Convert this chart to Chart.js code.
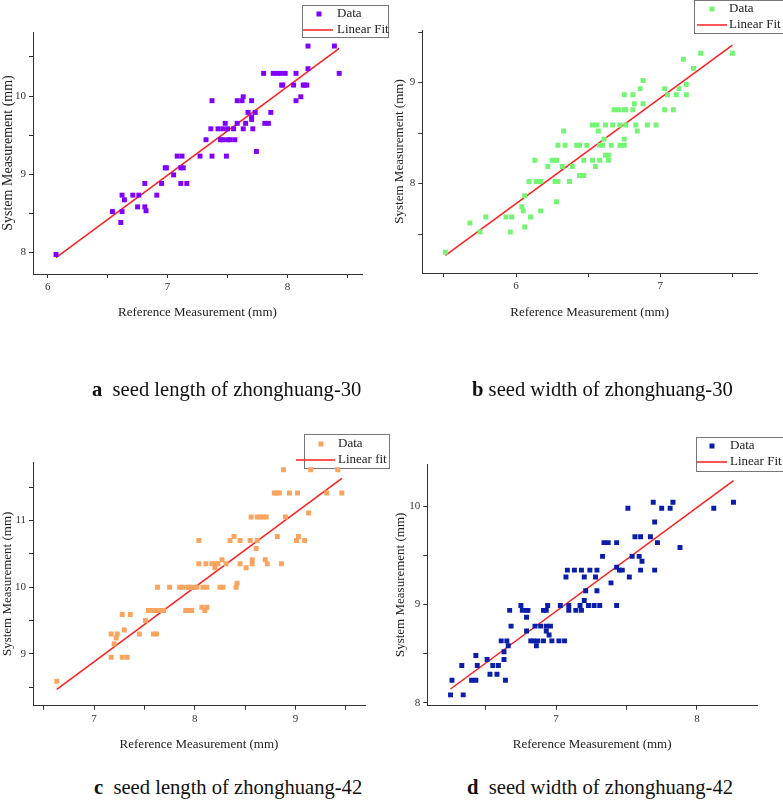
<!DOCTYPE html>
<html>
<head>
<meta charset="utf-8">
<script src="https://cdn.jsdelivr.net/npm/chart.js@4"></script>
<style>
  body { margin: 0; background: #fff; }
  #page { position: relative; width: 783px; height: 804px; overflow: hidden; background: #fff; }
  canvas { position: absolute; }
  .caption {
    position: absolute;
    font-family: "Liberation Serif", serif;
    font-size: 20.6px;
    line-height: 20px;
    color: #111;
    white-space: pre;
  }
  .caption b { font-weight: bold; }
</style>
</head>
<body>
<div id="page">
  <canvas id="chartA" width="391" height="324" style="left:0;top:0"></canvas>
  <canvas id="chartB" width="392" height="324" style="left:391px;top:0"></canvas>
  <canvas id="chartC" width="391" height="356" style="left:0;top:400px"></canvas>
  <canvas id="chartD" width="392" height="356" style="left:391px;top:400px"></canvas>
  <div class="caption" style="left:92px;top:379px"><b>a</b>  seed length of zhonghuang-30</div>
  <div class="caption" style="left:472px;top:379px"><b>b</b> seed width of zhonghuang-30</div>
  <div class="caption" style="left:94px;top:777px"><b>c</b>  seed length of zhonghuang-42</div>
  <div class="caption" style="left:467px;top:777px"><b>d</b>  seed width of zhonghuang-42</div>
</div>
<script>
// a: seed length, zhonghuang-30
const lenRef30 = [6.07, 6.54, 6.62, 6.61, 6.62, 6.64, 6.71, 6.76, 6.75, 6.81, 6.81, 6.82, 6.91, 6.95, 6.98, 6.99, 7.05, 7.08, 7.12, 7.11, 7.11, 7.13, 7.16, 7.27, 7.32, 7.36, 7.37, 7.37, 7.42, 7.44, 7.48, 7.49, 7.52, 7.56, 7.55, 7.58, 7.58, 7.62, 7.63, 7.63, 7.65, 7.67, 7.70, 7.70, 7.70, 7.71, 7.73, 7.74, 7.80, 7.81, 7.84, 7.86, 7.88, 7.91, 7.96, 7.98, 8.05, 8.07, 8.07, 8.11, 8.13, 8.16, 8.17, 8.17, 8.39, 8.43, 7.46, 7.50, 7.46, 7.50, 7.94, 7.95, 8.14];
const lenSys30 = [7.97, 8.52, 8.52, 8.38, 8.73, 8.67, 8.73, 8.73, 8.58, 8.88, 8.58, 8.53, 8.73, 8.88, 9.08, 9.08, 8.99, 9.23, 9.23, 8.88, 9.08, 9.08, 8.88, 9.23, 9.44, 9.58, 9.23, 9.94, 9.58, 9.44, 9.65, 9.23, 9.44, 9.44, 9.58, 9.65, 9.94, 9.94, 9.99, 9.58, 9.65, 9.79, 9.94, 9.73, 9.70, 9.58, 9.79, 9.29, 10.29, 9.65, 9.65, 9.79, 10.29, 10.29, 10.14, 10.29, 10.14, 10.29, 9.94, 9.99, 10.14, 10.14, 10.35, 10.64, 10.64, 10.29, 9.44, 9.44, 9.58, 9.58, 10.29, 10.14, 10.14];
const lenFit30X = [6.07, 8.43];
const lenFit30Y = [7.93, 10.61];

// b: seed width, zhonghuang-30
const widRef30 = [5.51, 5.68, 5.75, 5.79, 5.93, 5.96, 5.97, 6.04, 6.05, 6.06, 6.06, 6.09, 6.10, 6.13, 6.14, 6.17, 6.17, 6.22, 6.25, 6.28, 6.27, 6.28, 6.29, 6.29, 6.32, 6.33, 6.34, 6.37, 6.39, 6.42, 6.44, 6.44, 6.47, 6.47, 6.49, 6.53, 6.53, 6.55, 6.56, 6.57, 6.58, 6.58, 6.60, 6.62, 6.61, 6.62, 6.64, 6.64, 6.66, 6.67, 6.68, 6.71, 6.72, 6.72, 6.75, 6.75, 6.75, 6.75, 6.76, 6.76, 6.81, 6.81, 6.82, 6.83, 6.84, 6.86, 6.88, 6.88, 6.91, 6.97, 7.03, 7.03, 7.05, 7.09, 7.11, 7.13, 7.16, 7.18, 7.18, 7.23, 7.28, 7.50];
const widSys30 = [7.32, 7.61, 7.52, 7.67, 7.67, 7.52, 7.67, 7.77, 7.73, 7.88, 7.57, 8.02, 7.67, 8.23, 8.02, 8.02, 7.73, 8.17, 8.23, 8.23, 8.02, 7.82, 8.02, 8.38, 8.17, 8.52, 8.38, 8.02, 8.17, 8.38, 8.38, 8.08, 8.08, 8.23, 8.38, 8.58, 8.23, 8.17, 8.58, 8.52, 8.23, 8.38, 8.38, 8.58, 8.44, 8.28, 8.28, 8.23, 8.38, 8.58, 8.73, 8.73, 8.38, 8.58, 8.73, 8.88, 8.38, 8.44, 8.58, 8.73, 8.88, 8.73, 8.79, 8.58, 8.52, 8.94, 9.02, 8.79, 8.58, 8.58, 8.94, 8.73, 8.88, 8.73, 8.88, 8.94, 9.23, 8.98, 8.88, 9.14, 9.29, 9.29];
const widFit30X = [5.51, 7.50];
const widFit30Y = [7.29, 9.37];

// c: seed length, zhonghuang-42
const lenRef42 = [6.63, 7.17, 7.17, 7.20, 7.22, 7.23, 7.28, 7.28, 7.30, 7.33, 7.36, 7.45, 7.51, 7.54, 7.59, 7.62, 7.62, 7.63, 7.69, 7.75, 7.85, 7.91, 7.93, 7.97, 7.99, 8.02, 8.04, 8.04, 8.07, 8.10, 8.11, 8.12, 8.12, 8.17, 8.20, 8.23, 8.25, 8.27, 8.28, 8.31, 8.35, 8.39, 8.41, 8.42, 8.45, 8.45, 8.51, 8.55, 8.56, 8.57, 8.57, 8.61, 8.62, 8.62, 8.68, 8.70, 8.71, 8.72, 8.79, 8.82, 8.84, 8.86, 8.88, 8.90, 8.94, 9.01, 9.02, 9.03, 9.09, 9.13, 9.15, 9.31, 9.42, 9.46, 7.88, 7.95, 7.94, 8.21, 8.65, 8.81, 7.57, 7.66, 8.08];
const lenSys42 = [8.59, 9.30, 8.95, 9.15, 9.24, 9.30, 9.59, 8.95, 9.36, 8.95, 9.59, 9.30, 9.50, 9.65, 9.30, 9.30, 9.65, 10.00, 9.65, 10.00, 10.00, 9.65, 10.00, 9.65, 10.00, 10.00, 10.70, 10.35, 9.70, 9.65, 10.35, 10.00, 9.70, 10.35, 10.29, 10.35, 10.00, 10.41, 10.00, 10.35, 10.70, 10.76, 10.00, 10.06, 10.35, 10.70, 10.29, 10.70, 11.05, 10.41, 10.35, 10.58, 11.05, 10.70, 11.05, 10.41, 11.05, 10.35, 11.41, 10.76, 11.41, 10.35, 11.76, 11.05, 11.41, 10.70, 11.41, 10.76, 10.70, 11.11, 11.76, 11.41, 11.76, 11.41, 10.00, 10.00, 9.65, 10.35, 11.05, 11.41, 9.65, 9.65, 10.00];
const lenFit42X = [6.63, 9.46];
const lenFit42Y = [8.47, 11.63];

// d: seed width, zhonghuang-42
const widRef42 = [6.25, 6.26, 6.33, 6.34, 6.40, 6.43, 6.43, 6.44, 6.51, 6.53, 6.55, 6.58, 6.59, 6.61, 6.63, 6.63, 6.64, 6.65, 6.66, 6.67, 6.68, 6.75, 6.76, 6.79, 6.79, 6.79, 6.80, 6.82, 6.84, 6.85, 6.86, 6.87, 6.89, 6.91, 6.91, 6.93, 6.93, 6.93, 6.94, 6.95, 6.96, 6.97, 7.03, 7.02, 7.06, 7.07, 7.08, 7.09, 7.09, 7.13, 7.14, 7.18, 7.17, 7.18, 7.20, 7.20, 7.21, 7.23, 7.24, 7.27, 7.28, 7.29, 7.29, 7.31, 7.33, 7.34, 7.37, 7.39, 7.43, 7.43, 7.43, 7.45, 7.47, 7.51, 7.52, 7.54, 7.56, 7.59, 7.60, 7.60, 7.61, 7.67, 7.69, 7.70, 7.70, 7.72, 7.75, 7.81, 7.83, 7.88, 8.12, 8.26];
const widSys42 = [8.08, 8.23, 8.38, 8.08, 8.23, 8.23, 8.48, 8.38, 8.44, 8.29, 8.38, 8.29, 8.38, 8.63, 8.44, 8.52, 8.23, 8.63, 8.58, 8.94, 8.78, 8.99, 8.94, 8.73, 8.94, 8.87, 8.94, 8.63, 8.63, 8.78, 8.58, 8.63, 8.78, 8.63, 8.94, 8.73, 8.94, 8.78, 8.99, 8.69, 8.78, 8.63, 8.99, 8.63, 8.63, 9.28, 9.35, 8.99, 8.94, 9.35, 8.94, 8.94, 8.99, 9.35, 9.28, 9.04, 9.14, 8.99, 9.35, 8.99, 9.28, 9.14, 9.35, 8.99, 9.49, 9.63, 9.63, 9.22, 8.99, 9.38, 9.63, 9.35, 9.35, 9.98, 9.28, 9.49, 9.69, 9.49, 9.35, 9.69, 9.44, 9.69, 10.04, 9.84, 9.35, 9.63, 9.98, 9.98, 10.04, 9.58, 9.98, 10.04];
const widFit42X = [6.25, 8.26];
const widFit42Y = [8.14, 10.26];

const SERIF = '"Liberation Serif", "Times New Roman", serif';
const AXIS = "#333";

function pairs(xs, ys) {
  return xs.map((x, i) => ({ x: x, y: ys[i] }));
}

function isWhole(v) {
  return Math.abs(v - Math.round(v)) < 1e-6;
}

// Origin-style boxed legend, drawn behind the points
const boxLegend = {
  id: "boxLegend",
  beforeDatasetsDraw(chart, args, o) {
    const ctx = chart.ctx;
    const ds = chart.data.datasets;
    ctx.save();
    ctx.fillStyle = "#fff";
    ctx.fillRect(o.box[0], o.box[1], o.box[2], o.box[3]);
    ctx.strokeStyle = "#777";
    ctx.lineWidth = 1;
    ctx.strokeRect(o.box[0] + 0.5, o.box[1] + 0.5, o.box[2], o.box[3]);
    ctx.fillStyle = ds[0].backgroundColor;
    ctx.fillRect(o.markX - 2.5, o.row1 - 2.5, 5, 5);
    ctx.strokeStyle = ds[1].borderColor;
    ctx.lineWidth = 1.5;
    ctx.beginPath();
    ctx.moveTo(o.lineX[0], o.row2);
    ctx.lineTo(o.lineX[1], o.row2);
    ctx.stroke();
    ctx.fillStyle = "#222";
    ctx.font = "13px " + SERIF;
    ctx.textBaseline = "middle";
    ctx.fillText(ds[0].label, o.textX, o.row1);
    ctx.fillText(ds[1].label, o.textX, o.row2);
    ctx.restore();
  },
};

function makePanel(id, p) {
  const tickFont = { family: SERIF, size: 11 };
  new Chart(document.getElementById(id), {
    type: "scatter",
    data: {
      datasets: [
        {
          label: "Data",
          data: pairs(p.xs, p.ys),
          backgroundColor: p.color,
          borderWidth: 0,
          pointStyle: "rect",
          pointRadius: 3.5,
        },
        {
          label: p.fitLabel,
          data: pairs(p.fitX, p.fitY),
          showLine: true,
          borderColor: "#ff1f1f",
          borderWidth: 1.5,
          pointRadius: 0,
        },
      ],
    },
    options: {
      responsive: false,
      animation: false,
      devicePixelRatio: 1,
      events: [],
      layout: { padding: { top: p.padTop, right: p.padRight, left: 0, bottom: 0 } },
      plugins: {
        legend: { display: false },
        tooltip: { enabled: false },
        boxLegend: p.legend,
      },
      scales: {
        x: {
          type: "linear",
          min: p.xRange[0],
          max: p.xRange[1],
          ticks: {
            stepSize: 0.5,
            includeBounds: false,
            autoSkip: false,
            maxRotation: 0,
            color: AXIS,
            font: tickFont,
            callback: (v) => (isWhole(v) ? String(Math.round(v)) : ""),
          },
          grid: { drawOnChartArea: false, tickLength: 4, tickColor: AXIS },
          border: { color: AXIS, width: 1 },
          title: {
            display: true,
            text: "Reference Measurement (mm)",
            color: "#222",
            font: { family: SERIF, size: 13 },
            padding: { top: 4, bottom: 4 },
          },
          afterFit: (s) => {
            s.height = p.xAxisH;
          },
        },
        y: {
          type: "linear",
          min: p.yRange[0],
          max: p.yRange[1],
          ticks: {
            stepSize: 0.5,
            includeBounds: false,
            autoSkip: false,
            color: AXIS,
            font: tickFont,
            callback: (v) => (isWhole(v) ? String(Math.round(v)) : ""),
          },
          grid: { drawOnChartArea: false, tickLength: 4, tickColor: AXIS },
          border: { color: AXIS, width: 1 },
          title: {
            display: true,
            text: "System Measurement (mm)",
            color: "#222",
            font: { family: SERIF, size: p.yTitleSize },
            padding: { top: p.yTitlePad, bottom: 0 },
          },
          afterFit: (s) => {
            s.width = p.yAxisW;
          },
        },
      },
    },
    plugins: [boxLegend],
  });
}

makePanel("chartA", {
  xs: lenRef30, ys: lenSys30, fitX: lenFit30X, fitY: lenFit30Y,
  color: "#7f00ff", fitLabel: "Linear Fit",
  xRange: [5.878, 8.62], yRange: [7.72, 10.82],
  padTop: 32, padRight: 29, yAxisW: 33, xAxisH: 50,
  yTitleSize: 14, yTitlePad: 0,
  legend: { box: [302, 5, 86, 32], markX: 319, row1: 14, row2: 30, lineX: [303, 333], textX: 337 },
});

makePanel("chartB", {
  xs: widRef30, ys: widSys30, fitX: widFit30X, fitY: widFit30Y,
  color: "#74f574", fitLabel: "Linear Fit",
  xRange: [5.35, 7.67], yRange: [7.115, 9.52],
  padTop: 30, padRight: 26, yAxisW: 31.3, xAxisH: 51,
  yTitleSize: 13, yTitlePad: 1,
  legend: { box: [303, 0, 92, 33], markX: 321, row1: 9, row2: 25, lineX: [306, 336], textX: 338 },
});

makePanel("chartC", {
  xs: lenRef42, ys: lenSys42, fitX: lenFit42X, fitY: lenFit42Y,
  color: "#f9a55f", fitLabel: "Linear fit",
  xRange: [6.394, 9.69], yRange: [8.225, 11.875],
  padTop: 62, padRight: 26, yAxisW: 33, xAxisH: 50.3,
  yTitleSize: 13, yTitlePad: 0,
  legend: { box: [304, 34, 85, 34], markX: 321, row1: 44, row2: 60, lineX: [296, 335], textX: 338 },
});

makePanel("chartD", {
  xs: widRef42, ys: widSys42, fitX: widFit42X, fitY: widFit42Y,
  color: "#0a1eaa", fitLabel: "Linear Fit",
  xRange: [6.085, 8.427], yRange: [7.97, 10.43],
  padTop: 64, padRight: 26, yAxisW: 36.3, xAxisH: 50.3,
  yTitleSize: 13, yTitlePad: 2,
  legend: { box: [305, 37, 92, 34], markX: 321, row1: 46, row2: 62, lineX: [306, 336], textX: 339 },
});
</script>
</body>
</html>
